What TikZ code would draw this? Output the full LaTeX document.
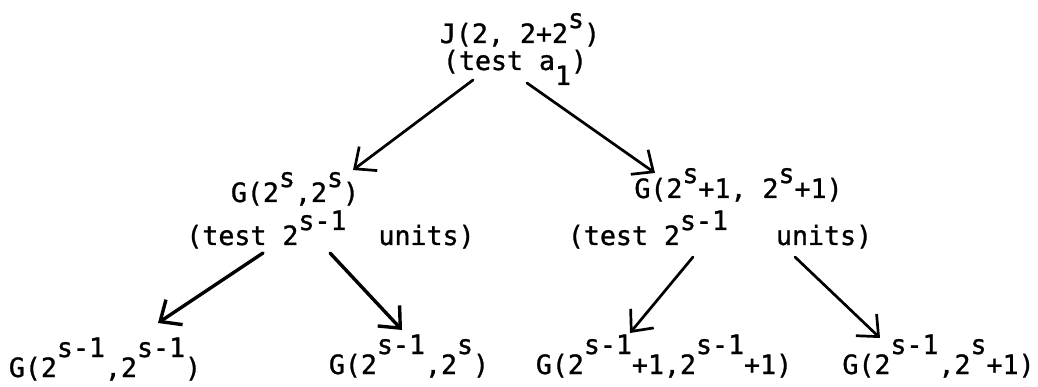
\documentclass[tikz,border=0pt]{standalone}
\usepackage{fontspec}
\usetikzlibrary{arrows.meta,calc}
\newfontfamily\tw[FakeBold=1.1]{DejaVu Sans Mono}
\newcommand\upx[2][15pt]{\raisebox{#1}{#2}}
\newcommand\dnx[1]{\raisebox{-15pt}{#1}}
\newcommand\sk{\hspace*{16pt}}
\begin{document}
\begin{tikzpicture}[x=1pt,y=-1pt,
  lbl/.style={inner sep=0pt, anchor=base, font=\tw\fontsize{26.6}{28}\selectfont},
  arr/.style={line width=2.7pt, line cap=round, -{Straight Barb[length=17pt,width=30pt]}},
  arrb/.style={arr, line width=3.4pt}]
\useasboundingbox (0,0) rectangle (1038,387);
\node[lbl] (topA) at (520,43) {J(2,\sk2+2\upx{s})};
\node[lbl] (topB) at (515,70) {(test\sk a\dnx{1})};
\node[lbl] (lA) at (295,202) {G(2\upx{s},2\upx{s})};
\node[lbl] (lB) at (330.5,245) {(test\sk2\upx{s-1}\sk\sk units)};
\node[lbl] (rA) at (738.5,198) {G(2\upx{s}+1,\sk2\upx{s}+1)};
\node[lbl] (rB) at (720,245) {(test\sk2\upx{s-1}\sk\sk\sk units)};
\node[lbl] (b1) at (105,377) {G(2\upx[20pt]{s-1},2\upx[20pt]{s-1})};
\node[lbl] (b2) at (409,374) {G(2\upx[20pt]{s-1},2\upx[20pt]{s})};
\node[lbl] (b3) at (664,374) {G(2\upx[20pt]{s-1}+1,2\upx[20pt]{s-1}+1)};
\node[lbl] (b4) at (938.5,374) {G(2\upx[20pt]{s-1},2\upx[20pt]{s}+1)};
\draw[arr] ($(topB.base)+(-42,10)$) -- ($(lA.base)+(58,-32)$);
\draw[arr] ($(topB.base)+(12,13)$) -- ($(rA.base)+(-83.5,-25)$);
\draw[arrb] ($(lB.base)+(-67.5,8)$) -- ($(b1.base)+(53,-54)$);
\draw[arrb] ($(lB.base)+(-0.5,8)$) -- ($(b2.base)+(-7,-44)$);
\draw[arr] ($(rB.base)+(-27,12)$) -- ($(b3.base)+(-34,-41)$);
\draw[arr] ($(rB.base)+(75,12)$) -- ($(b4.base)+(-58.5,-36)$);
\end{tikzpicture}
\end{document}
